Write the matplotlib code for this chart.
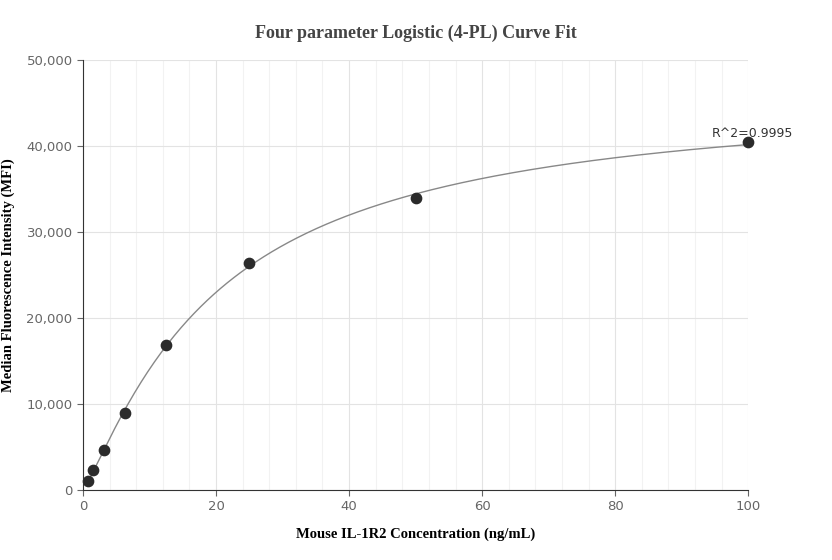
import numpy as np
import matplotlib
matplotlib.use("Agg")
import matplotlib.pyplot as plt
from matplotlib.ticker import MultipleLocator, FuncFormatter

conc = [0.78, 1.56, 3.125, 6.25, 12.5, 25, 50, 100]
mfi = [1100, 2300, 4600, 9000, 16800, 26400, 33900, 40400]
r2_label = "R^2=0.9995"


def fit_4pl(x, y):
    # grid over c and b; a, d solved by linear least squares
    x = np.asarray(x, float)
    y = np.asarray(y, float)
    best = None
    for c in np.linspace(5, 80, 301):
        for b in np.linspace(0.5, 3.0, 126):
            g = 1.0 / (1.0 + (x / c) ** b)
            A = np.column_stack([g, 1 - g])
            coef, *_ = np.linalg.lstsq(A, y, rcond=None)
            err = np.sum((A @ coef - y) ** 2)
            if best is None or err < best[0]:
                best = (err, coef[0], b, c, coef[1])
    return best[1:]


a, b, c, d = fit_4pl(conc, mfi)
xs = np.linspace(min(conc), max(conc), 400)
ys = d + (a - d) / (1 + (xs / c) ** b)

fig = plt.figure(figsize=(8.32, 5.6), dpi=100)
ax = fig.add_axes([0.0998, 0.125, 0.7995, 0.768])
ax.plot(xs, ys, color="#888888", lw=1.0, zorder=2)
ax.scatter(conc, mfi, s=55, color="#2b2b2b", zorder=3, clip_on=False)
ax.annotate(r2_label, (conc[-1], mfi[-1]), xytext=(-26, 4), textcoords="offset points",
            fontsize=9, color="#333333")

ax.set_xlim(0, 100)
ax.set_ylim(0, 50000)
ax.xaxis.set_major_locator(MultipleLocator(20))
ax.xaxis.set_minor_locator(MultipleLocator(4))
ax.yaxis.set_major_locator(MultipleLocator(10000))
ax.yaxis.set_major_formatter(FuncFormatter(lambda v, p: f"{int(v):,}"))
ax.grid(True, which="major", color="#e3e3e3", lw=0.8)
ax.grid(True, which="minor", axis="x", color="#f2f2f2", lw=0.8)
ax.set_axisbelow(True)
for s in ["top", "right"]:
    ax.spines[s].set_visible(False)
for s in ["left", "bottom"]:
    ax.spines[s].set_color("#333333")
ax.tick_params(which="both", colors="#666666", labelsize=9.5, length=4)
ax.tick_params(which="minor", length=0)

ax.set_title("Four parameter Logistic (4-PL) Curve Fit", fontfamily="Liberation Serif",
             fontweight="bold", fontsize=13, color="#444444", pad=16)
ax.set_xlabel("Mouse IL-1R2 Concentration (ng/mL)", fontfamily="Liberation Serif",
              fontweight="bold", fontsize=10.5, labelpad=10)
ax.set_ylabel("Median Fluorescence Intensity (MFI)", fontfamily="Liberation Serif",
              fontweight="bold", fontsize=10.5, labelpad=8)

fig.savefig("out.png", dpi=100)
